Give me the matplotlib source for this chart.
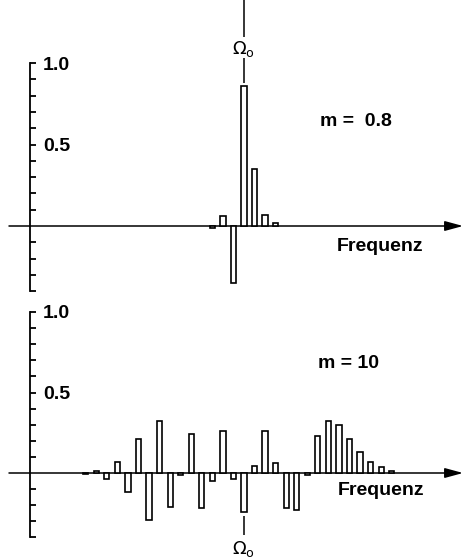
import matplotlib.pyplot as plt
from matplotlib.ticker import FixedLocator, NullFormatter

# sideband amplitudes (index n = line number relative to carrier)
n_top = [-3, -2, -1, 0, 1, 2, 3]
amp_top = [-0.01, 0.06, -0.35, 0.86, 0.35, 0.065, 0.02]

n_bot = list(range(-15, 15))
amp_bot = [-0.005, 0.01, -0.04, 0.07, -0.12, 0.21, -0.29, 0.32, -0.21, -0.015,
           0.24, -0.22, -0.05, 0.26, -0.04, -0.24, 0.045, 0.26, 0.06, -0.22,
           -0.23, -0.015, 0.23, 0.32, 0.30, 0.21, 0.13, 0.07, 0.035, 0.015]

labels_m = ['m =  0.8', 'm = 10']
yticks_major = [0.5, 1.0]
yticks_minor = [-0.4, -0.3, -0.2, -0.1, 0.1, 0.2, 0.3, 0.4, 0.6, 0.7, 0.8, 0.9]

W, H = 463, 560
x0px, dx = 244, 10.55          # carrier position / line spacing in pixels
xlim = (-x0px / dx, (W - x0px) / dx)
yaxis_x = (30 - x0px) / dx
hline_start = (9 - x0px) / dx

plt.rcParams['font.family'] = ['Liberation Sans', 'DejaVu Sans']
plt.rcParams['mathtext.fontset'] = 'dejavusans'
fs = 14

fig = plt.figure(figsize=(W / 100, H / 100), dpi=100)


def panel(top_px, bot_px, base_px, scale, n, amp, mtext, mpos, fpos, omega_above):
    ax = fig.add_axes([0, 1 - bot_px / H, 1, (bot_px - top_px) / H])
    ax.set_xlim(*xlim)
    ax.set_ylim(-(bot_px - base_px) / scale, (base_px - top_px) / scale)
    for s in ['left', 'top', 'bottom']:
        ax.spines[s].set_visible(False)
    sp = ax.spines['right']
    sp.set_position(('data', yaxis_x))
    sp.set_bounds(-0.4, 1.0)
    sp.set_linewidth(1.3)
    ax.set_xticks([])
    ax.yaxis.set_ticks_position('right')
    ax.yaxis.set_major_locator(FixedLocator(yticks_major))
    ax.yaxis.set_minor_locator(FixedLocator(yticks_minor))
    ax.yaxis.set_minor_formatter(NullFormatter())
    ax.tick_params(axis='y', which='both', direction='out', length=4.5, width=1.3,
                   labelsize=fs, pad=5)
    for lab in ax.get_yticklabels():
        lab.set_fontweight('bold')

    ax.bar(n, amp, width=0.5, facecolor='white', edgecolor='black', linewidth=1.2, zorder=3)
    ax.annotate('', xy=(xlim[1], 0), xytext=(hline_start, 0),
                arrowprops=dict(arrowstyle='-|>,head_length=1.1,head_width=0.3',
                                color='black', lw=1.1, shrinkA=0, shrinkB=0), zorder=2)

    ax.text(mpos[0], mpos[1], mtext, fontsize=fs, fontweight='bold', ha='left', va='center')
    ax.text(fpos[0], fpos[1], 'Frequenz', fontsize=fs, fontweight='bold', ha='left', va='center')

    a0 = amp[n.index(0)]
    if omega_above:
        ax.vlines(0, a0 + 0.02, a0 + 0.17, color='black', lw=1.1)
        ax.text(0, a0 + 0.225, r'$\Omega_{\mathrm{o}}$', fontsize=13, ha='center', va='center')
        ax.vlines(0, a0 + 0.3, 1.4, color='black', lw=1.1)
    else:
        ax.vlines(0, a0 - 0.03, a0 - 0.145, color='black', lw=1.1)
        ax.text(0, a0 - 0.23, r'$\Omega_{\mathrm{o}}$', fontsize=13, ha='center', va='center')
    return ax


panel(0, 300, 226, 163, n_top, amp_top, labels_m[0],
      ((320 - x0px) / dx, 0.64), ((337 - x0px) / dx, -0.123), True)
panel(300, 560, 473, 161, n_bot, amp_bot, labels_m[1],
      ((318 - x0px) / dx, 0.683), ((338 - x0px) / dx, -0.106), False)

fig.savefig('out.png', dpi=100)
